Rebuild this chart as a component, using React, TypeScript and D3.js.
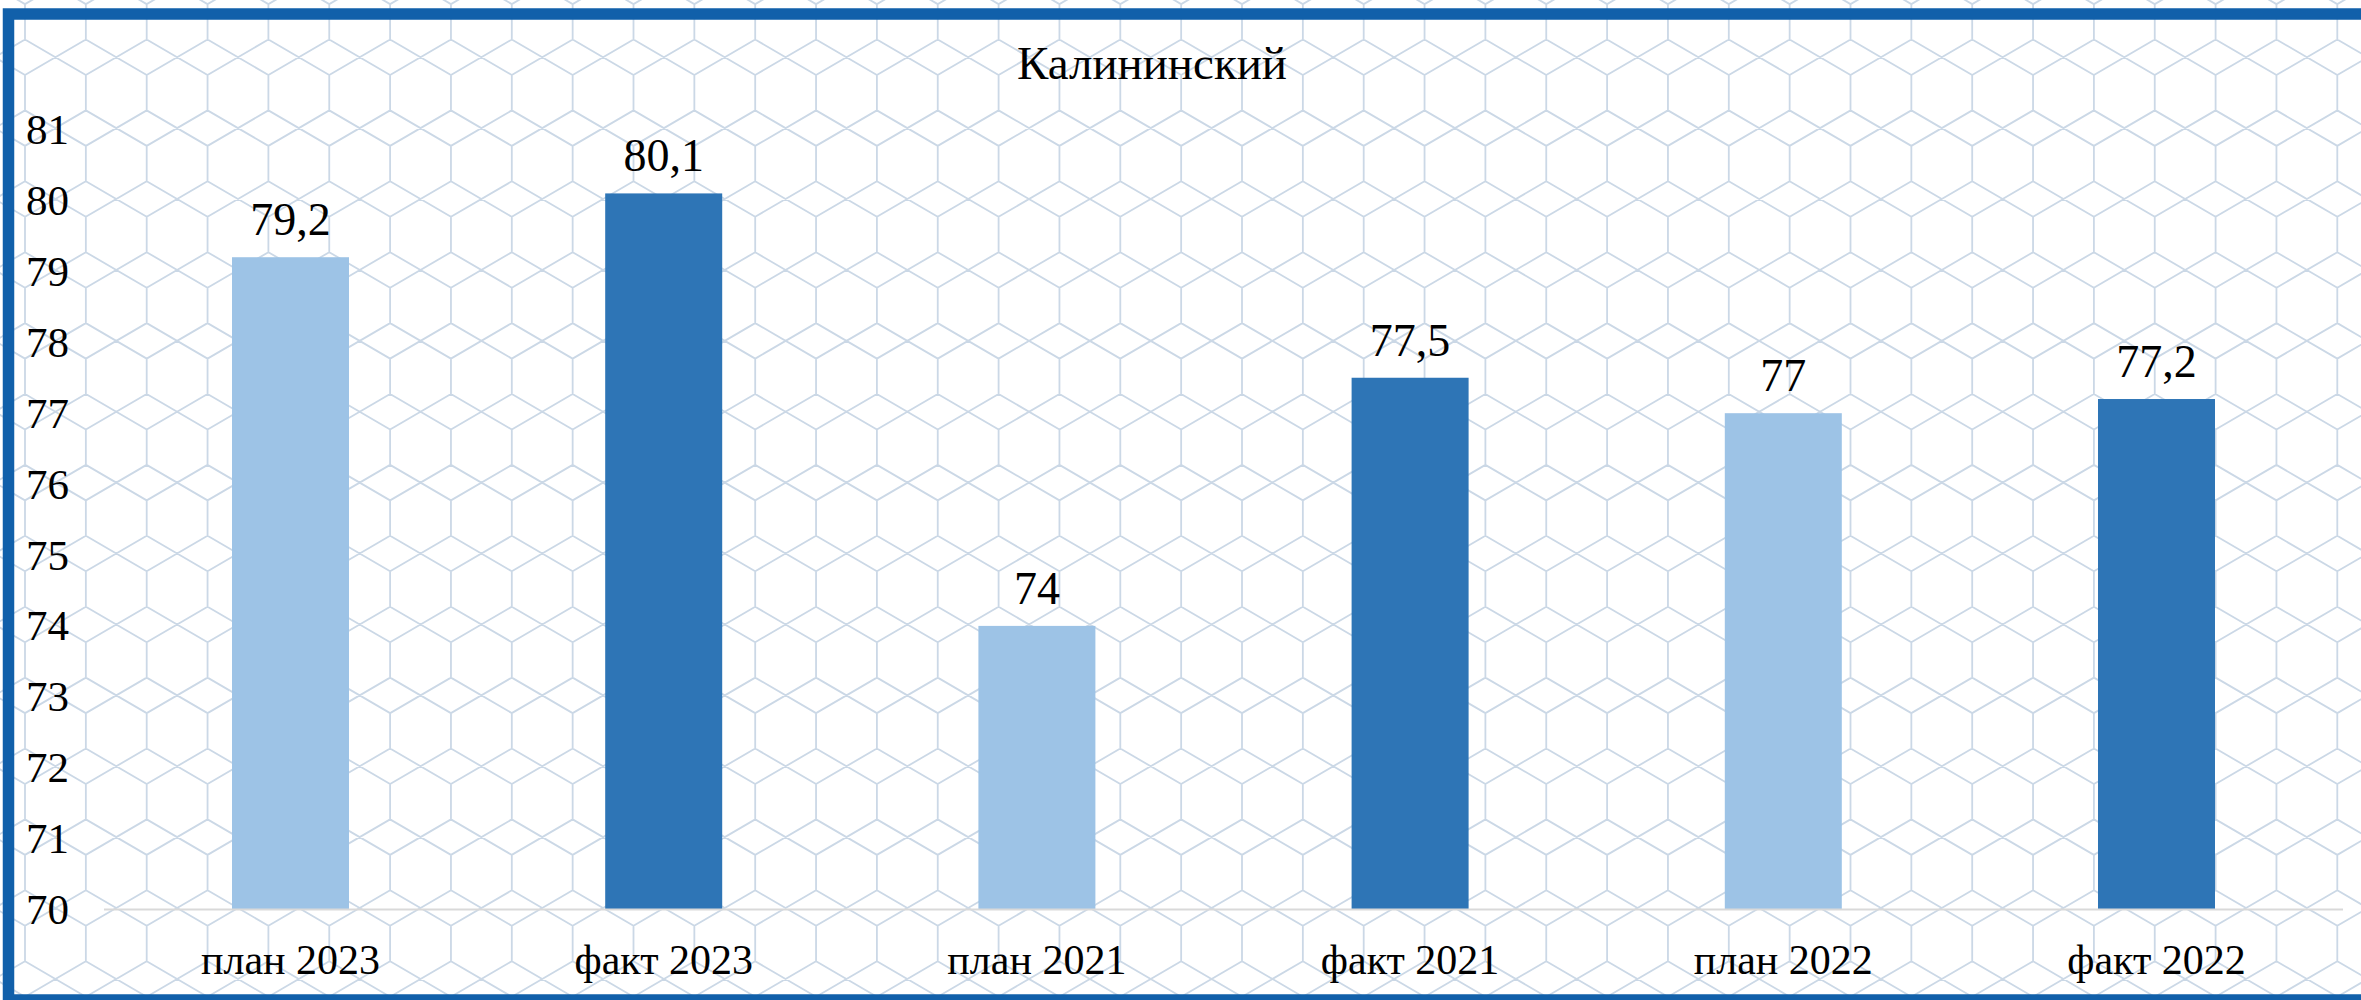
import React from "react";
import * as d3 from "d3";

const categories = ["план 2023", "факт 2023", "план 2021", "факт 2021", "план 2022", "факт 2022"];
const values = [79.2, 80.1, 74, 77.5, 77, 77.2];
const barKinds = ["plan", "fact", "plan", "fact", "plan", "fact"];
const yTicks = [70, 71, 72, 73, 74, 75, 76, 77, 78, 79, 80, 81];
const title = "Калининский";

const W = 2361;
const H = 1000;
const FONT = "'Liberation Serif', 'Times New Roman', serif";

function hexPattern(): string {
  const dx = 60.85;
  const x0 = 25;
  const P = 70.9;
  const y0 = 75;
  const s = 35.4;
  let d = "";
  const cols: number[] = [];
  for (let x = x0 - dx * 2; x < W + dx * 2; x += dx) cols.push(x);
  const rows: number[] = [];
  for (let y = y0 - P * 3; y < H + P * 2; y += P) rows.push(y);
  for (const y of rows) {
    for (let i = 0; i < cols.length; i++) {
      const x = cols[i];
      d += `M${x.toFixed(2)},${y.toFixed(2)}V${(y + s).toFixed(2)}`;
      if (i + 1 < cols.length) {
        const xn = cols[i + 1];
        d += `M${x.toFixed(2)},${(y + s).toFixed(2)}L${xn.toFixed(2)},${(y + P).toFixed(2)}`;
        d += `M${xn.toFixed(2)},${(y + s).toFixed(2)}L${x.toFixed(2)},${(y + P).toFixed(2)}`;
      }
    }
  }
  return d;
}

export default function App() {
  const x = d3
    .scaleBand<string>()
    .domain(categories)
    .range([104, 2343])
    .paddingInner(0.6865)
    .paddingOuter(0.343);
  const y = d3.scaleLinear().domain([70, 81]).range([909.5, 129.6]);
  const color = (k: string) => (k === "plan" ? "#9dc3e6" : "#2e75b6");
  const fmt = (v: number) => String(v).replace(".", ",");

  return (
    <svg
      width={W}
      height={H}
      style={{ position: "absolute", left: 0, top: 0, background: "#ffffff" }}
    >
      <rect x={0} y={0} width={W} height={H} fill="#ffffff" />
      <path d={hexPattern()} stroke="#cbd8e6" strokeWidth={1.8} fill="none" />
      <text
        x={1152}
        y={79}
        textAnchor="middle"
        fontFamily={FONT}
        fontSize={47}
        fill="#000"
      >
        {title}
      </text>
      {yTicks.map((t) => (
        <text
          key={t}
          x={26}
          y={y(t) + 14.5}
          fontFamily={FONT}
          fontSize={43}
          fill="#000"
        >
          {t}
        </text>
      ))}
      {categories.map((c, i) => (
        <rect
          key={c}
          x={x(c)}
          y={y(values[i])}
          width={x.bandwidth()}
          height={y(70) - y(values[i])}
          fill={color(barKinds[i])}
        />
      ))}
      <line x1={104} x2={2343} y1={y(70)} y2={y(70)} stroke="#d9d9d9" strokeWidth={2} />
      {categories.map((c, i) => (
        <text
          key={"v" + c}
          x={(x(c) as number) + x.bandwidth() / 2}
          y={y(values[i]) - 22}
          textAnchor="middle"
          fontFamily={FONT}
          fontSize={46}
          fill="#000"
        >
          {fmt(values[i])}
        </text>
      ))}
      {categories.map((c) => (
        <text
          key={"l" + c}
          x={(x(c) as number) + x.bandwidth() / 2}
          y={974}
          textAnchor="middle"
          fontFamily={FONT}
          fontSize={42}
          fill="#000"
        >
          {c}
        </text>
      ))}
      <rect
        x={8.5}
        y={14}
        width={W + 100}
        height={986}
        fill="none"
        stroke="#1160aa"
        strokeWidth={11.5}
      />
    </svg>
  );
}
